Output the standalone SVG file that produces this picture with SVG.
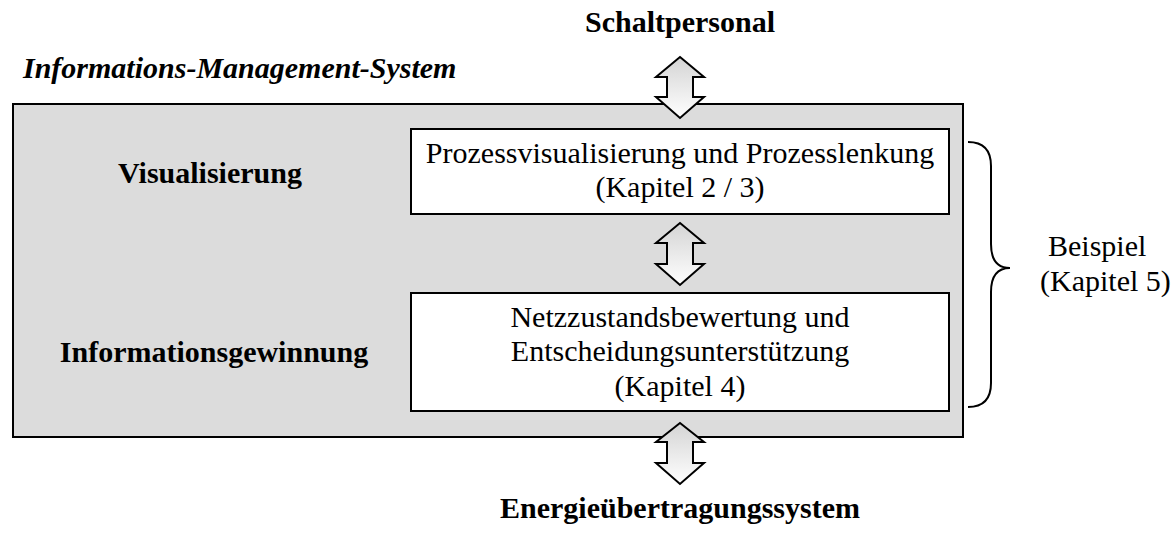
<svg xmlns="http://www.w3.org/2000/svg" width="1175" height="533" viewBox="0 0 1175 533">
<style>
.t{font-family:"Liberation Serif","Times New Roman",serif;font-size:30px;fill:#000}
.b{font-weight:bold}
.i{font-style:italic}
.box{fill:#fff;stroke:#000;stroke-width:2}
.arr{fill:url(#ag);stroke:#000;stroke-width:2;stroke-linejoin:miter}
</style>
<defs>
<linearGradient id="ag" x1="0" y1="0" x2="0" y2="1">
<stop offset="0" stop-color="#d4d4d4"/>
<stop offset="1" stop-color="#ffffff"/>
</linearGradient>
</defs>
<rect width="1175" height="533" fill="#fff"/>
<text class="t b i" x="23" y="78">Informations-Management-System</text>
<g id="ims">
<rect x="13" y="104" width="950" height="333" fill="#dcdcdc" stroke="#000" stroke-width="2"/>
</g>
<g id="lbl-vis"><text class="t b" x="210" y="183" text-anchor="middle">Visualisierung</text></g>
<g id="lbl-inf"><text class="t b" x="214" y="362" text-anchor="middle">Informationsgewinnung</text></g>
<g id="box-vis">
<rect class="box" x="411" y="129" width="538" height="85"/>
<text class="t" x="680" y="163" text-anchor="middle">Prozessvisualisierung und Prozesslenkung</text>
<text class="t" x="680" y="197" text-anchor="middle">(Kapitel 2 / 3)</text>
</g>
<g id="box-inf">
<rect class="box" x="411" y="293" width="538" height="118"/>
<text class="t" x="680" y="327" text-anchor="middle">Netzzustandsbewertung und</text>
<text class="t" x="680" y="361" text-anchor="middle">Entscheidungsunterstützung</text>
<text class="t" x="680" y="396" text-anchor="middle">(Kapitel 4)</text>
</g>
<g id="schalt"><text class="t b" x="680" y="32" text-anchor="middle">Schaltpersonal</text></g>
<g id="energie"><text class="t b" x="680" y="518" text-anchor="middle">Energieübertragungssystem</text></g>
<g id="beispiel">
<text class="t" x="1048" y="256">Beispiel</text>
<text class="t" x="1040" y="291">(Kapitel 5)</text>
</g>
<g id="connectors">
<path class="arr" d="M680,57 L704,77 L693,77 L693,97 L704,97 L680,118 L656,97 L667,97 L667,77 L656,77 Z"/>
<path class="arr" d="M680,223 L704,243 L693,243 L693,264 L704,264 L680,285 L656,264 L667,264 L667,243 L656,243 Z"/>
<path class="arr" d="M680,423 L704,442 L693,442 L693,463 L704,463 L680,484 L656,463 L667,463 L667,442 L656,442 Z"/>
<path d="M968,142 Q991,142 991,166 L991,244 Q991,268 1010,268 Q991,268 991,292 L991,383 Q991,407 968,407" fill="none" stroke="#000" stroke-width="2"/>
</g>
</svg>
